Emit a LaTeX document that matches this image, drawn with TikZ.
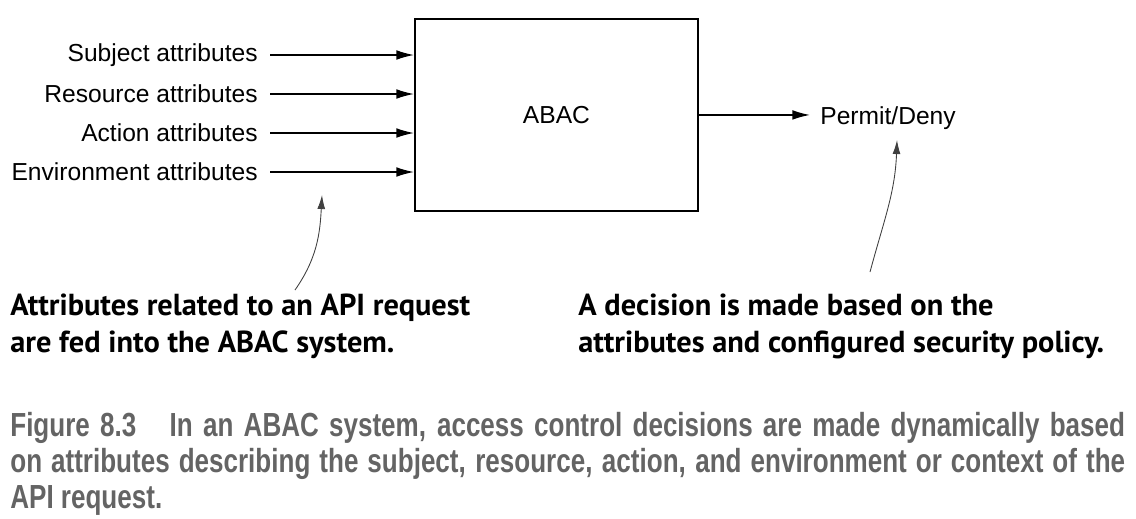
\documentclass[tikz,border=0pt]{standalone}
\usepackage{fontspec}
\setmainfont{Liberation Sans}
\newfontfamily\notefont{PT Sans}
\newfontfamily\capfont[FakeStretch=0.78]{Liberation Sans}
\usetikzlibrary{arrows.meta,positioning}
\definecolor{capgray}{RGB}{100,100,100}

\begin{document}
\begin{tikzpicture}[x=0.02cm, y=-0.02cm,
		attr/.style={anchor=east, inner sep=0pt, font=\fontsize{14}{16}\selectfont},
		feed/.style={line width=0.8pt, -{Latex[length=10pt,width=5.5pt]}},
		note/.style={anchor=north west, inner sep=0pt, align=left, font=\notefont\bfseries\fontsize{17.3}{21}\selectfont},
		noteline/.style={line width=0.5pt, black!75, -{Latex[length=8pt,width=4.5pt]}}]
		\useasboundingbox (0,0) rectangle (1136,518);

		\node[draw, line width=1.1pt, minimum width=5.66cm, minimum height=3.84cm, anchor=north west,
			font=\fontsize{14}{16}\selectfont] (abac) at (414,18) {ABAC};

		\node[attr] (subj) at (258,55) {Subject attributes};
		\node[attr] (res) at (258,94) {Resource attributes};
		\node[attr] (act) at (258,133) {Action attributes};
		\node[attr] (env) at (258,172) {Environment attributes};

		\foreach \a in {subj, res, act, env}
			\draw[feed, shorten <=0.24cm] (\a.east) -- (\a.east -| abac.west);

		\node[anchor=base west, inner sep=0pt, font=\fontsize{14}{16}\selectfont] (permit) at (820,124) {Permit/Deny};
		\draw[feed, shorten >=0.2cm] (abac.east) -- (abac.east -| permit.west);

		\node[note] (lnote) at (10,294) {Attributes related to an API request\\are fed into the ABAC system.};
		\node[note] (rnote) at (578,294) {A decision is made based on the\\attributes and configured security policy.};

		\coordinate (ltail) at (295,290);
		\coordinate (lhead) at (322,195);
		\coordinate (rtail) at (870,272);
		\coordinate (rhead) at (897,140);
		\draw[noteline] (ltail) to[out=55, in=-93] (lhead);
		\draw[noteline] (rtail) to[out=75, in=-92] (rhead);

		\node[anchor=north west, inner sep=0pt, text width=22.3cm, align=justify, text=capgray,
			font=\capfont\bfseries\fontsize{19}{20.5}\selectfont] (caption) at (10,412)
			{Figure 8.3\hspace{1em}In an ABAC system, access control decisions are made dynamically based\linebreak
			on attributes describing the subject, resource, action, and environment or context of the\linebreak
			API request.};
	\end{tikzpicture}
\end{document}
